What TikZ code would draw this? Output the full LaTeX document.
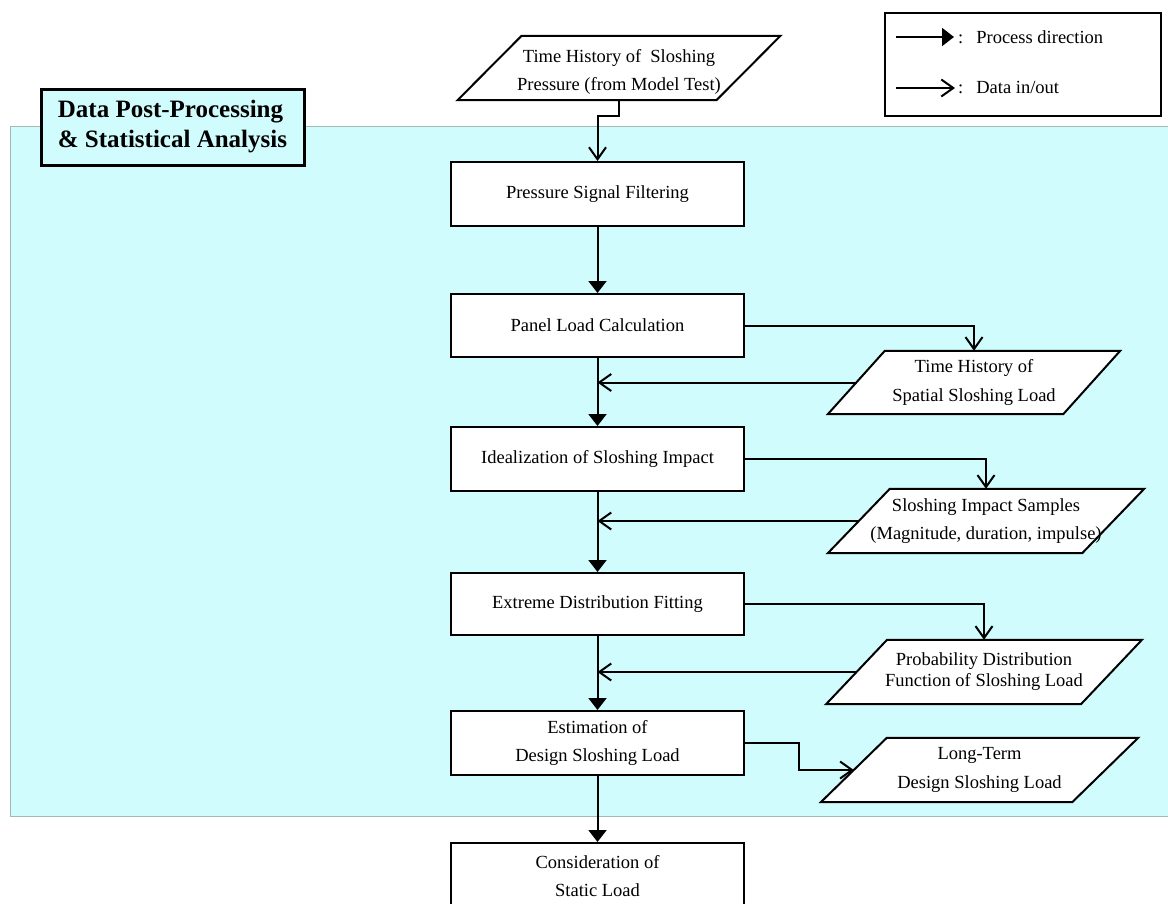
\documentclass[tikz,border=0pt]{standalone}
\usepackage{fontspec}
\setmainfont{Liberation Serif}
\usetikzlibrary{arrows.meta}
\pgfdeclarelayer{bg}
\pgfdeclarelayer{mid}
\pgfsetlayers{bg,mid,main}
\definecolor{bandcyan}{RGB}{208,252,253}
\definecolor{bandedge}{RGB}{160,185,185}
\newcommand\msz{\fontsize{18.5}{28.5}\selectfont}
\newcommand\tsz{\fontsize{25}{30}\selectfont\bfseries}
\newcommand\lowr[1]{\raisebox{-4pt}[\height][\depth]{#1}}
\newcommand\paradraw[2]{%
  \begin{pgfonlayer}{mid}
    \filldraw[fill=white,line width=2pt,line join=miter]
      ([xshift=#2/2]#1.north west) -- ([xshift=#2/2]#1.north east) --
      ([xshift=-#2/2]#1.south east) -- ([xshift=-#2/2]#1.south west) -- cycle;
  \end{pgfonlayer}}
\begin{document}
\begin{tikzpicture}[x=1pt,y=-1pt,
  mbox/.style={draw,line width=2pt,fill=white,minimum width=293pt,minimum height=64pt,
    align=center,inner sep=0pt,font=\msz},
  pnode/.style={minimum height=64pt,inner sep=0pt,align=center,font=\msz},
  titlebox/.style={draw,line width=3pt,fill=bandcyan,minimum width=263pt,minimum height=76pt,
    align=left,inner sep=0pt,font=\tsz},
  legbox/.style={draw,line width=1.6pt,fill=white,minimum width=276pt,minimum height=103pt,inner sep=0pt},
  legtext/.style={anchor=west,inner sep=0pt,font=\msz},
  proc/.style={line width=2pt,-{Triangle[length=12pt,width=18pt]}},
  dat/.style={line width=2pt,-{Straight Barb[length=12pt,width=17pt]}}]
\useasboundingbox (0,0) rectangle (1168,903);

% band
\begin{pgfonlayer}{bg}
  \filldraw[fill=bandcyan,draw=bandedge,line width=1pt] (10,126) rectangle (1180,816);
\end{pgfonlayer}

% title
\node[titlebox] (title) at (172.5,127) {Data Post-Processing\\\& Statistical Analysis};

% legend
\node[legbox] (leg) at (1023,64.5) {};
\coordinate (la1s) at (896,37);
\coordinate (la1e) at (954,37);
\coordinate (la2s) at (896,88);
\coordinate (la2e) at (955,88);
\draw[proc] (la1s) -- (la1e);
\draw[dat] (la2s) -- (la2e);
\node[legtext] (lt1) at (958,37) {:\hspace{13pt}Process direction};
\node[legtext] (lt2) at (958,88) {:\hspace{13pt}Data in/out};

% main boxes
\node[mbox] (b1) at (597.5,194) {Pressure Signal Filtering};
\node[mbox,minimum height=63pt] (b2) at (597.5,325.5) {Panel Load Calculation};
\node[mbox] (b3) at (597.5,459) {Idealization of Sloshing Impact};
\node[mbox,minimum height=62pt] (b4) at (597.5,604) {Extreme Distribution Fitting};
\node[mbox] (b5) at (597.5,743) {Estimation of\\Design Sloshing Load};
\node[mbox,minimum height=66pt] (b6) at (597.5,876) {Consideration of\\Static Load};

% parallelograms
\node[pnode,minimum width=258.5pt] (p0) at (619,68) {\lowr{Time History of\hspace{9pt}Sloshing}\\\lowr{Pressure (from Model Test)}};
\paradraw{p0}{64}
\node[pnode,minimum width=235pt,minimum height=63pt] (p1) at (974,382.5) {Time History of\\Spatial Sloshing Load};
\paradraw{p1}{57}
\node[pnode,minimum width=254pt] (p2) at (986,521) {Sloshing Impact Samples\\(Magnitude, duration, impulse)};
\paradraw{p2}{62}
\node[pnode,minimum width=254.5pt,font=\fontsize{18.5}{21}\selectfont] (p3) at (984,672) {Probability Distribution\\Function of Sloshing Load};
\paradraw{p3}{61}
\node[pnode,minimum width=251pt] (p4) at (979.5,770) {Long-Term\\Design Sloshing Load};
\paradraw{p4}{66}

% process flow
\draw[dat] (p0.south) -- ++(0,16) -| (b1.north);
\draw[proc] (b1.south) -- (b2.north);
\draw[proc] (b2.south) -- (b3.north);
\draw[proc] (b3.south) -- (b4.north);
\draw[proc] (b4.south) -- (b5.north);
\draw[proc] (b5.south) -- (b6.north);

% data out
\draw[dat] (b2.east) -| (p1.north);
\draw[dat] (b3.east) -| (p2.north);
\draw[dat] (b4.east) -| (p3.north);
\draw[dat] (b5.east) -- ++(54,0) |- (p4.west);

% data in
\draw[dat] (p1.west) -- (b2.south |- p1.west);
\draw[dat] (p2.west) -- (b3.south |- p2.west);
\draw[dat] (p3.west) -- (b4.south |- p3.west);
\end{tikzpicture}
\end{document}
